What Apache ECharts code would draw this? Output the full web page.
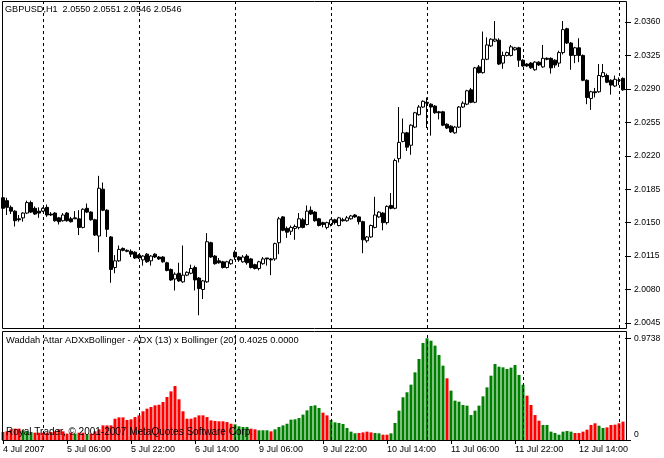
<!DOCTYPE html>
<html>
<head>
<meta charset="utf-8">
<script src="https://cdn.jsdelivr.net/npm/echarts@6/dist/echarts.min.js"></script>
<style>
html,body{margin:0;padding:0;background:#fff;}
#chart{width:664px;height:458px;}
</style>
</head>
<body>
<div id="chart"></div>
<script>
// ---- data (GBPUSD H1, 4 Jul 2007 14:00 .. 13 Jul 2007 01:00) ----
const opens = [2.0176,2.0173,2.0166,2.0162,2.0154,2.0155,2.0160,2.0171,2.0165,2.0162,
2.0162,2.0166,2.0159,2.0160,2.0155,2.0152,2.0160,2.0154,2.0155,2.0154,
2.0145,2.0165,2.0161,2.0153,2.0136,2.0185,2.0163,2.0135,2.0103,2.0110,
2.0123,2.0121,2.0120,2.0119,2.0116,2.0111,2.0117,2.0110,2.0117,2.0114,
2.0114,2.0108,2.0101,2.0091,2.0097,2.0088,2.0095,2.0097,2.0103,2.0092,
2.0080,2.0088,2.0129,2.0115,2.0110,2.0109,2.0103,2.0107,2.0119,2.0114,
2.0109,2.0115,2.0112,2.0106,2.0102,2.0107,2.0113,2.0112,2.0112,2.0129,
2.0156,2.0144,2.0141,2.0144,2.0145,2.0153,2.0148,2.0163,2.0161,2.0154,
2.0150,2.0145,2.0148,2.0153,2.0147,2.0153,2.0152,2.0154,2.0158,2.0156,
2.0151,2.0131,2.0135,2.0145,2.0156,2.0160,2.0150,2.0168,2.0165,2.0217,
2.0235,2.0244,2.0231,2.0250,2.0263,2.0271,2.0276,2.0274,2.0272,2.0266,
2.0266,2.0253,2.0251,2.0244,2.0250,2.0271,2.0274,2.0289,2.0276,2.0313,
2.0307,2.0321,2.0335,2.0340,2.0341,2.0317,2.0325,2.0325,2.0331,2.0333,
2.0320,2.0316,2.0317,2.0310,2.0318,2.0313,2.0322,2.0322,2.0320,2.0317,
2.0328,2.0353,2.0338,2.0325,2.0333,2.0325,2.0299,2.0280,2.0287,2.0287,
2.0303,2.0304,2.0299,2.0293,2.0299,2.0301];
const highs = [2.0178,2.0176,2.0168,2.0163,2.0158,2.0161,2.0173,2.0173,2.0167,2.0166,
2.0166,2.0169,2.0161,2.0161,2.0156,2.0160,2.0161,2.0156,2.0162,2.0163,
2.0165,2.0170,2.0162,2.0154,2.0199,2.0192,2.0164,2.0136,2.0116,2.0126,
2.0124,2.0122,2.0122,2.0120,2.0117,2.0116,2.0118,2.0116,2.0118,2.0115,
2.0115,2.0109,2.0102,2.0098,2.0108,2.0126,2.0099,2.0106,2.0105,2.0093,
2.0090,2.0139,2.0130,2.0116,2.0113,2.0110,2.0110,2.0112,2.0121,2.0115,
2.0116,2.0117,2.0113,2.0107,2.0110,2.0114,2.0113,2.0113,2.0129,2.0156,
2.0157,2.0146,2.0147,2.0148,2.0160,2.0155,2.0168,2.0167,2.0162,2.0155,
2.0151,2.0151,2.0154,2.0154,2.0156,2.0155,2.0157,2.0158,2.0159,2.0157,
2.0152,2.0136,2.0148,2.0177,2.0162,2.0161,2.0168,2.0181,2.0217,2.0271,
2.0259,2.0245,2.0253,2.0266,2.0273,2.0278,2.0281,2.0275,2.0273,2.0267,
2.0267,2.0254,2.0252,2.0251,2.0272,2.0277,2.0289,2.0291,2.0313,2.0315,
2.0350,2.0344,2.0343,2.0361,2.0343,2.0329,2.0329,2.0336,2.0334,2.0334,
2.0321,2.0317,2.0318,2.0319,2.0319,2.0336,2.0323,2.0323,2.0321,2.0330,
2.0361,2.0354,2.0339,2.0334,2.0343,2.0326,2.0300,2.0288,2.0291,2.0316,
2.0316,2.0306,2.0300,2.0304,2.0302,2.0302];
const lows = [2.0163,2.0158,2.0159,2.0146,2.0151,2.0151,2.0159,2.0160,2.0158,2.0155,
2.0161,2.0156,2.0157,2.0151,2.0148,2.0151,2.0151,2.0150,2.0154,2.0137,
2.0144,2.0160,2.0152,2.0136,2.0119,2.0162,2.0135,2.0087,2.0097,2.0109,
2.0120,2.0119,2.0114,2.0112,2.0112,2.0105,2.0108,2.0105,2.0113,2.0111,
2.0108,2.0099,2.0089,2.0079,2.0088,2.0087,2.0094,2.0096,2.0079,2.0053,
2.0070,2.0087,2.0113,2.0106,2.0107,2.0102,2.0102,2.0106,2.0111,2.0109,
2.0108,2.0106,2.0102,2.0101,2.0100,2.0106,2.0105,2.0095,2.0110,2.0117,
2.0141,2.0134,2.0137,2.0132,2.0143,2.0144,2.0147,2.0158,2.0151,2.0146,
2.0145,2.0143,2.0146,2.0148,2.0146,2.0151,2.0151,2.0153,2.0155,2.0148,
2.0118,2.0129,2.0134,2.0144,2.0155,2.0142,2.0148,2.0164,2.0164,2.0213,
2.0234,2.0225,2.0221,2.0249,2.0262,2.0270,2.0249,2.0241,2.0264,2.0258,
2.0251,2.0248,2.0244,2.0243,2.0249,2.0270,2.0273,2.0275,2.0275,2.0306,
2.0306,2.0320,2.0334,2.0339,2.0315,2.0311,2.0324,2.0324,2.0330,2.0313,
2.0313,2.0313,2.0311,2.0309,2.0314,2.0312,2.0320,2.0306,2.0312,2.0313,
2.0326,2.0337,2.0310,2.0317,2.0318,2.0298,2.0274,2.0268,2.0281,2.0286,
2.0302,2.0296,2.0284,2.0292,2.0294,2.0288];
const closes = [2.0165,2.0166,2.0162,2.0152,2.0153,2.0160,2.0171,2.0161,2.0159,2.0160,
2.0165,2.0158,2.0158,2.0152,2.0151,2.0158,2.0152,2.0151,2.0154,2.0145,
2.0164,2.0161,2.0153,2.0137,2.0186,2.0163,2.0143,2.0101,2.0110,2.0122,
2.0121,2.0120,2.0117,2.0113,2.0113,2.0115,2.0109,2.0115,2.0114,2.0112,
2.0109,2.0100,2.0090,2.0096,2.0089,2.0095,2.0098,2.0102,2.0090,2.0081,
2.0089,2.0130,2.0114,2.0107,2.0108,2.0103,2.0109,2.0111,2.0114,2.0111,
2.0114,2.0108,2.0103,2.0102,2.0109,2.0112,2.0112,2.0111,2.0128,2.0154,
2.0142,2.0140,2.0145,2.0146,2.0154,2.0145,2.0162,2.0159,2.0152,2.0147,
2.0148,2.0150,2.0153,2.0150,2.0155,2.0152,2.0155,2.0157,2.0156,2.0151,
2.0132,2.0135,2.0147,2.0158,2.0161,2.0150,2.0167,2.0165,2.0215,2.0234,
2.0244,2.0229,2.0252,2.0265,2.0271,2.0277,2.0275,2.0271,2.0265,2.0265,
2.0252,2.0249,2.0245,2.0250,2.0271,2.0275,2.0288,2.0276,2.0312,2.0307,
2.0321,2.0336,2.0342,2.0342,2.0316,2.0325,2.0328,2.0334,2.0333,2.0320,
2.0314,2.0314,2.0312,2.0318,2.0315,2.0322,2.0321,2.0312,2.0315,2.0328,
2.0352,2.0338,2.0325,2.0333,2.0325,2.0299,2.0281,2.0287,2.0286,2.0304,
2.0307,2.0297,2.0294,2.0300,2.0299,2.0289];

// Waddah Attar ADX x Bollinger histogram
const histValues = [0.077,0.083,0.102,0.109,0.109,0.093,0.083,0.077,0.070,0.070,
0.070,0.070,0.077,0.083,0.102,0.083,0.061,0.070,0.061,0.070,
0.070,0.051,0.061,0.083,0.102,0.140,0.140,0.140,0.204,0.217,
0.217,0.192,0.198,0.220,0.236,0.275,0.300,0.316,0.332,0.338,
0.364,0.412,0.466,0.517,0.390,0.275,0.204,0.204,0.217,0.236,
0.236,0.220,0.188,0.182,0.179,0.179,0.172,0.156,0.150,0.131,
0.125,0.125,0.109,0.102,0.093,0.093,0.093,0.083,0.102,0.125,
0.140,0.156,0.195,0.198,0.211,0.243,0.284,0.326,0.332,0.307,
0.262,0.236,0.192,0.169,0.163,0.153,0.115,0.080,0.064,0.067,
0.073,0.080,0.073,0.067,0.064,0.051,0.051,0.064,0.163,0.281,
0.409,0.457,0.530,0.648,0.776,0.929,0.9738,0.951,0.904,0.814,
0.712,0.591,0.473,0.377,0.367,0.335,0.329,0.239,0.281,0.329,
0.418,0.504,0.616,0.728,0.702,0.696,0.680,0.693,0.718,0.623,
0.530,0.425,0.335,0.239,0.185,0.144,0.144,0.080,0.067,0.051,
0.080,0.086,0.080,0.067,0.067,0.080,0.099,0.144,0.160,0.137,
0.115,0.121,0.144,0.147,0.160,0.176];
// 1 = green (rising), 0 = red
const histUp = [0,0,0,0,0,1,1,1,0,0,
0,0,0,0,0,0,0,0,1,0,
0,1,0,0,0,0,0,0,0,0,
0,0,0,0,0,0,0,0,0,0,
0,0,0,0,0,0,0,0,0,0,
0,0,0,0,0,0,0,0,1,1,
1,1,0,0,1,1,1,0,1,1,
1,1,1,1,1,1,1,1,1,1,
0,0,1,1,1,1,1,1,1,0,
0,0,0,1,1,0,0,1,1,1,
1,1,1,1,1,1,1,1,1,1,
1,0,1,1,1,1,1,1,1,1,
1,1,1,1,1,1,1,1,1,1,
1,0,0,0,0,1,1,1,1,1,
1,1,1,0,0,0,0,0,0,1,
1,0,0,0,0,0];

const xTickIndex = [0,16,32,48,64,80,96,112,128,144];
const xTickText = ['4 Jul 2007','5 Jul 06:00','5 Jul 22:00','6 Jul 14:00','9 Jul 06:00',
  '9 Jul 22:00','10 Jul 14:00','11 Jul 06:00','11 Jul 22:00','12 Jul 14:00'];
const daySeparators = [10,34,58,82,106,130,154];
const priceTicks = [2.0045,2.0080,2.0115,2.0150,2.0185,2.0220,2.0255,2.0290,2.0325,2.0360];
const histTicks = [0,0.9738];

const headerText = 'GBPUSD,H1  2.0550 2.0551 2.0546 2.0546';
const indicatorText = 'Waddah Attar ADXxBollinger - ADX (13) x Bollinger (20) 0.4025 0.0000';
const copyrightText = 'Royal Trader, \u00a9 2001-2007 MetaQuotes Software Corp.';

// ---- build ----
const categories = opens.map((_, i) => String(i));
const candleData = opens.map((o, i) => [o, closes[i], lows[i], highs[i]]);
const FONT = "'Liberation Sans',Arial,sans-serif";
const tickSet = new Set(xTickIndex);
const sepLines = {
  silent: true, symbol: ['none','none'], animation: false,
  label: {show: false},
  lineStyle: {color: '#000', width: 1, type: [3, 3], opacity: 1},
  emphasis: {disabled: true},
  data: daySeparators.map(i => ({xAxis: i}))
};
const txt = (size) => ({fontFamily: FONT, fontSize: size, fontWeight: 'normal', color: '#000'});

const chart = echarts.init(document.getElementById('chart'), null, {renderer: 'canvas'});
chart.setOption({
  animation: false,
  backgroundColor: '#fff',
  textStyle: {fontFamily: FONT},
  title: [
    {text: headerText, left: 5, top: 5, padding: 0, textStyle: txt(9.1)},
    {text: indicatorText, left: 6, top: 336, padding: 0, textStyle: txt(9.3)},
    {text: copyrightText, left: 6, top: 427, padding: 0, z: 20, textStyle: txt(10)}
  ],
  graphic: [
    {type: 'rect', silent: true, z: 30, shape: {x: 2.5, y: 1.5, width: 624, height: 327},
     style: {fill: null, stroke: '#000', lineWidth: 1}},
    {type: 'rect', silent: true, z: 30, shape: {x: 2.5, y: 331.5, width: 624, height: 109},
     style: {fill: null, stroke: '#000', lineWidth: 1}}
  ],
  grid: [
    {left: 1, top: 1, width: 624, height: 327, show: false},
    {left: 1, top: 331, width: 624, height: 109, show: false}
  ],
  xAxis: [
    {type: 'category', gridIndex: 0, data: categories, boundaryGap: true,
     axisLine: {show: false}, axisTick: {show: false}, axisLabel: {show: false}, splitLine: {show: false}},
    {type: 'category', gridIndex: 1, data: categories, boundaryGap: true,
     axisLine: {show: false},
     axisTick: {show: true, alignWithLabel: true, length: 4, lineStyle: {color: '#000'},
       interval: (i) => tickSet.has(i)},
     axisLabel: {show: true, color: '#000', fontFamily: FONT, fontSize: 9, align: 'left', margin: 5,
       interval: (i) => tickSet.has(i),
       formatter: (v, i) => xTickText[xTickIndex.indexOf(i)] || ''},
     splitLine: {show: false}}
  ],
  yAxis: [
    {type: 'value', gridIndex: 0, position: 'right', min: 2.00397, max: 2.03820, scale: true,
     axisLine: {show: false}, splitLine: {show: false},
     axisTick: {show: true, length: 6, inside: false, lineStyle: {color: '#000'}, customValues: priceTicks},
     axisLabel: {show: true, color: '#000', fontFamily: FONT, fontSize: 8.6, margin: 9,
       customValues: priceTicks, formatter: v => v.toFixed(4)}},
    {type: 'value', gridIndex: 1, position: 'right', min: 0, max: 1.044,
     axisLine: {show: false}, splitLine: {show: false},
     axisTick: {show: true, length: 6, lineStyle: {color: '#000'}, customValues: histTicks},
     axisLabel: {show: true, color: '#000', fontFamily: FONT, fontSize: 8.6, margin: 9,
       customValues: histTicks, formatter: v => v === 0 ? '{z|0}' : v.toFixed(4),
       rich: {z: {fontFamily: FONT, fontSize: 8.6, color: '#000', padding: [0, 0, 10, 0]}}}}
  ],
  series: [
    {type: 'candlestick', xAxisIndex: 0, yAxisIndex: 0, data: candleData, barWidth: 3,
     itemStyle: {color: '#fff', color0: '#000', borderColor: '#000', borderColor0: '#000', borderWidth: 1},
     markLine: sepLines},
    {type: 'bar', xAxisIndex: 1, yAxisIndex: 1, data: histValues, barWidth: 3,
     itemStyle: {color: p => histUp[p.dataIndex] ? '#008000' : '#ff0000'},
     markLine: sepLines}
  ]
});
</script>
</body>
</html>
